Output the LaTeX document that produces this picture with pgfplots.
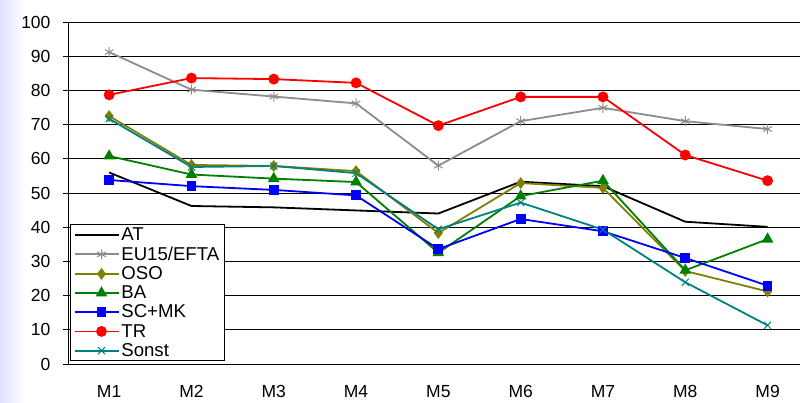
\documentclass[border=0pt]{standalone}
\usepackage{fontspec}
\setmainfont{Liberation Sans}
\usepackage{pgfplots}
\pgfplotsset{compat=1.18}
\definecolor{olivec}{HTML}{808000}
\definecolor{greenc}{HTML}{008000}
\definecolor{tealc}{HTML}{008080}
\definecolor{grayc}{HTML}{8C8C8C}
\begin{document}
\begin{tikzpicture}
\path[use as bounding box] (-68pt,-39pt) rectangle (732pt,364pt);
\shade[left color=blue!12, right color=white] (-68pt,-39pt) rectangle (-44pt,364pt);
\begin{axis}[
  at={(0,0)}, anchor=south west,
  scale only axis, width=732pt, height=342pt,
  xmin=0.5, xmax=9.394, ymin=0, ymax=100,
  axis x line*=bottom, axis y line*=left,
  axis line style={-, line width=0.8pt},
  ytick={0,10,...,100},
  xtick={1,...,9},
  xticklabels={M1,M2,M3,M4,M5,M6,M7,M8,M9},
  major x tick style={draw=none},
  extra x ticks={0.5,1.5,...,8.5},
  extra x tick labels={},
  extra x tick style={major tick length=7pt, tick style={draw=black, line width=0.8pt}, grid=none},
  tick align=outside,
  major tick length=5pt,
  tick style={black, line width=0.8pt},
  ymajorgrids, grid style={black, line width=0.8pt},
  yticklabel style={font=\fontsize{17.5}{19}\selectfont, xshift=-9pt},
  xticklabel style={font=\fontsize{17.5}{19}\selectfont, yshift=-13pt},
  /pgf/number format/assume math mode=true,
  every axis plot/.append style={line width=1.8pt},
  legend cell align=left,
  legend style={at={(axis description cs:0.003,0.008)}, anchor=south west,
    font=\fontsize{18.6}{18.6}\selectfont, draw=black, line width=0.8pt,
    row sep=0.8pt, inner xsep=3pt, inner ysep=1pt},
  legend image code/.code={\path (0pt,0pt) -- (44pt,0pt);\draw[mark repeat=2, mark phase=2] plot coordinates {(11pt,0pt) (27pt,0pt) (43pt,0pt)};},
]
\addplot[black, no markers] coordinates {(1,56) (2,46.2) (3,45.8) (4,44.9) (5,44) (6,53.3) (7,52) (8,41.6) (9,40.1)};
\addlegendentry{AT}
\addplot[grayc, mark=asterisk, mark size=5pt, mark options={line width=1pt}] coordinates {(1,91.2) (2,80.2) (3,78.2) (4,76.2) (5,58) (6,71) (7,74.9) (8,71) (9,68.7)};
\addlegendentry{EU15/EFTA}
\addplot[olivec, mark=diamond*, mark size=4.5pt] coordinates {(1,72.5) (2,58.2) (3,57.9) (4,56.4) (5,38.3) (6,52.9) (7,51.5) (8,27.2) (9,21.2)};
\addlegendentry{OSO}
\addplot[greenc, mark=triangle*, mark size=5pt] coordinates {(1,60.8) (2,55.4) (3,54.2) (4,53.2) (5,32.5) (6,49.1) (7,53.6) (8,27.4) (9,36.5)};
\addlegendentry{BA}
\addplot[blue, mark=square*, mark size=4pt] coordinates {(1,53.8) (2,52) (3,50.9) (4,49.3) (5,33.6) (6,42.4) (7,38.8) (8,31) (9,22.9)};
\addlegendentry{SC+MK}
\addplot[red, mark=*, mark size=4.5pt] coordinates {(1,78.7) (2,83.6) (3,83.3) (4,82.2) (5,69.7) (6,78.1) (7,78.1) (8,61.1) (9,53.6)};
\addlegendentry{TR}
\addplot[tealc, mark=x, mark size=5pt, mark options={line width=1pt}] coordinates {(1,71.7) (2,57.6) (3,57.9) (4,55.8) (5,39.4) (6,47.2) (7,39.3) (8,23.9) (9,11.3)};
\addlegendentry{Sonst}
\end{axis}
\end{tikzpicture}
\end{document}
